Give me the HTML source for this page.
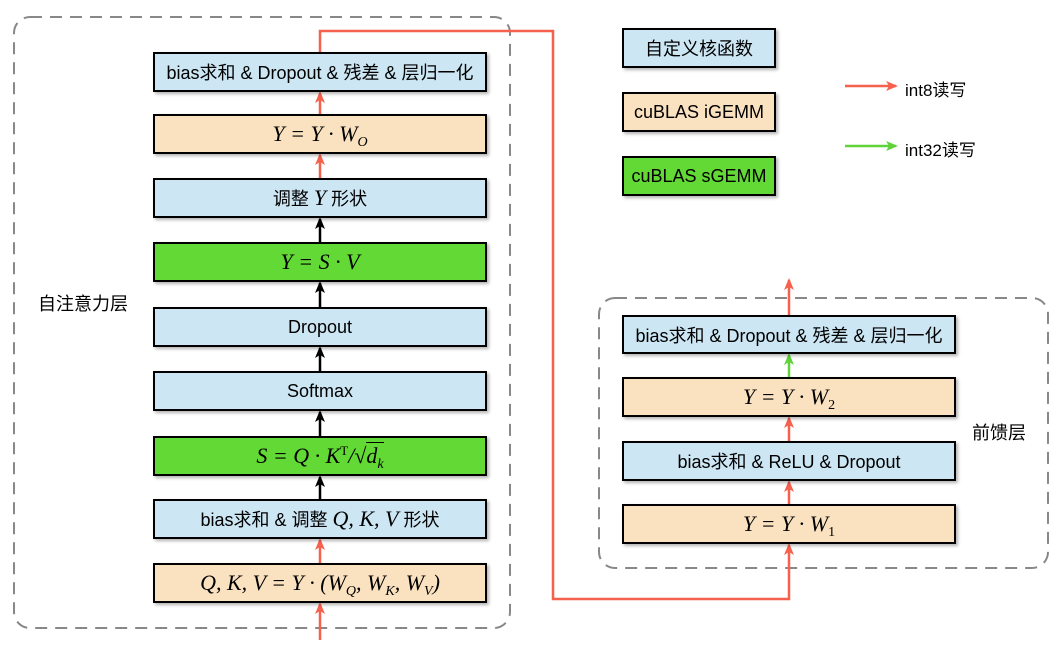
<!DOCTYPE html>
<html><head><meta charset="utf-8"><style>
body{margin:0;background:#fff;width:1064px;height:656px;overflow:hidden;position:relative;font-family:"Liberation Sans","Noto Sans CJK SC",sans-serif;}
.b{position:absolute;box-sizing:border-box;border:2px solid #000;display:flex;align-items:center;justify-content:center;font-size:18px;color:#000;box-shadow:2px 2px 3px rgba(0,0,0,0.3);white-space:nowrap}
.bl{background:#cce6f4}.or{background:#fae2c0}.gr{background:#62d935}
.m{font-family:"Liberation Serif","Noto Serif CJK SC",serif;font-style:italic;font-size:22px}
.m sub{font-size:14px;vertical-align:-5px;line-height:0}
.m sup{font-size:13px;vertical-align:8px;line-height:0;font-style:normal}
.t{position:absolute;font-size:17px;white-space:nowrap}
</style></head><body>
<svg width="1064" height="656" style="position:absolute;left:0;top:0">
<defs>
<marker id="r" markerUnits="userSpaceOnUse" markerWidth="12" markerHeight="12" refX="10" refY="6" orient="auto"><path d="M0,1 L12,6 L0,11 L3,6z" fill="#f5614d"/></marker>
<marker id="k" markerUnits="userSpaceOnUse" markerWidth="12" markerHeight="12" refX="10" refY="6" orient="auto"><path d="M0,1 L12,6 L0,11 L3,6z" fill="#000"/></marker>
<marker id="g" markerUnits="userSpaceOnUse" markerWidth="12" markerHeight="12" refX="10" refY="6" orient="auto"><path d="M0,1 L12,6 L0,11 L3,6z" fill="#5fd339"/></marker>
</defs>
<rect x="14" y="17" width="496" height="611" rx="16" fill="none" stroke="#888" stroke-width="2" stroke-dasharray="12,8"/>
<rect x="599" y="298" width="449" height="270" rx="16" fill="none" stroke="#888" stroke-width="2" stroke-dasharray="12,8"/>
<g stroke-width="2.5" fill="none">
<line x1="320" y1="640" x2="320" y2="604" stroke="#f5614d" marker-end="url(#r)"/>
<line x1="320" y1="563" x2="320" y2="540" stroke="#f5614d" marker-end="url(#r)"/>
<line x1="320" y1="499" x2="320" y2="477" stroke="#000" marker-end="url(#k)"/>
<line x1="320" y1="436" x2="320" y2="412" stroke="#000" marker-end="url(#k)"/>
<line x1="320" y1="371" x2="320" y2="348" stroke="#000" marker-end="url(#k)"/>
<line x1="320" y1="307" x2="320" y2="283" stroke="#000" marker-end="url(#k)"/>
<line x1="320" y1="242" x2="320" y2="219" stroke="#000" marker-end="url(#k)"/>
<line x1="320" y1="178" x2="320" y2="155" stroke="#f5614d" marker-end="url(#r)"/>
<line x1="320" y1="114" x2="320" y2="93" stroke="#f5614d" marker-end="url(#r)"/>
<polyline points="320,52 320,31 553,31 553,599 789,599 789,545" stroke="#f5614d" marker-end="url(#r)"/>
<line x1="789" y1="504" x2="789" y2="482" stroke="#f5614d" marker-end="url(#r)"/>
<line x1="789" y1="441" x2="789" y2="418" stroke="#f5614d" marker-end="url(#r)"/>
<line x1="789" y1="377" x2="789" y2="355" stroke="#5fd339" marker-end="url(#g)"/>
<line x1="789" y1="315" x2="789" y2="280" stroke="#f5614d" marker-end="url(#r)"/>
<line x1="845" y1="86" x2="896" y2="86" stroke="#f5614d" marker-end="url(#r)"/>
<line x1="845" y1="146" x2="896" y2="146" stroke="#5fd339" marker-end="url(#g)"/>
</g>
</svg>
<div class="b bl" style="left:153px;top:52px;width:334px;height:40px"><span>bias求和 &amp; Dropout &amp; 残差 &amp; 层归一化</span></div>
<div class="b or m" style="left:153px;top:114px;width:334px;height:40px"><span>Y = Y · W<sub>O</sub></span></div>
<div class="b bl" style="left:153px;top:178px;width:334px;height:40px"><span>调整 <span class="m">Y</span> 形状</span></div>
<div class="b gr m" style="left:153px;top:242px;width:334px;height:40px"><span>Y = S · V</span></div>
<div class="b bl" style="left:153px;top:307px;width:334px;height:40px"><span>Dropout</span></div>
<div class="b bl" style="left:153px;top:371px;width:334px;height:40px"><span>Softmax</span></div>
<div class="b gr m" style="left:153px;top:436px;width:334px;height:40px"><span>S = Q · K<sup>T</sup>/<span style="font-style:normal">√</span><span style="border-top:1.5px solid #000">d<sub>k</sub></span></span></div>
<div class="b bl" style="left:153px;top:499px;width:334px;height:40px"><span>bias求和 &amp; 调整 <span class="m">Q, K, V</span> 形状</span></div>
<div class="b or m" style="left:153px;top:563px;width:334px;height:40px"><span>Q, K, V = Y · (W<sub>Q</sub>, W<sub>K</sub>, W<sub>V</sub>)</span></div>
<div class="b bl" style="left:622px;top:315px;width:334px;height:39px"><span>bias求和 &amp; Dropout &amp; 残差 &amp; 层归一化</span></div>
<div class="b or m" style="left:622px;top:377px;width:334px;height:40px"><span>Y = Y · W<sub style="font-style:normal">2</sub></span></div>
<div class="b bl" style="left:622px;top:441px;width:334px;height:40px"><span>bias求和 &amp; ReLU &amp; Dropout</span></div>
<div class="b or m" style="left:622px;top:504px;width:334px;height:40px"><span>Y = Y · W<sub style="font-style:normal">1</sub></span></div>
<div class="b bl" style="left:622px;top:28px;width:154px;height:40px"><span>自定义核函数</span></div>
<div class="b or" style="left:622px;top:92px;width:154px;height:40px"><span>cuBLAS iGEMM</span></div>
<div class="b gr" style="left:622px;top:156px;width:154px;height:40px"><span>cuBLAS sGEMM</span></div>
<div class="t" style="left:905px;top:76px">int8读写</div>
<div class="t" style="left:905px;top:136px">int32读写</div>
<div class="t" style="left:38px;top:290px;font-size:18px">自注意力层</div>
<div class="t" style="left:972px;top:419px;font-size:18px">前馈层</div>
</body></html>
